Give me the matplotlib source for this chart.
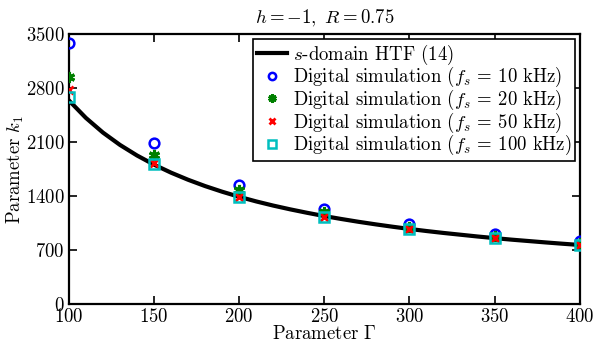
import matplotlib
matplotlib.use("Agg")
import matplotlib.pyplot as plt

plt.rcParams["font.family"] = "serif"
plt.rcParams["font.serif"] = ["cmr10", "DejaVu Serif"]
plt.rcParams["mathtext.fontset"] = "cm"
plt.rcParams["axes.formatter.use_mathtext"] = True

# s-domain HTF curve
gamma_curve = [100, 110, 120, 130, 140, 150, 160, 170, 180, 190, 200, 210, 220, 230, 240, 250,
               260, 270, 280, 290, 300, 310, 320, 330, 340, 350, 360, 370, 380, 390, 400]
k1_curve = [2640, 2413, 2223, 2063, 1926, 1807, 1703, 1611, 1529, 1456, 1390, 1330, 1276, 1227,
            1182, 1140, 1102, 1066, 1033, 1002, 973, 946, 921, 898, 875, 854, 834, 816, 798, 781, 765]

# digital simulation points
gamma_pts = [100, 150, 200, 250, 300, 350, 400]
k1_10k = [3383, 2087, 1543, 1231, 1037, 907, 817]
k1_20k = [2943, 1932, 1478, 1193, 998, 881, 791]
k1_50k = [2774, 1828, 1387, 1128, 972, 855, 765]
k1_100k = [2683, 1815, 1387, 1128, 972, 855, 765]

xticks = [100, 150, 200, 250, 300, 350, 400]
yticks = [0, 700, 1400, 2100, 2800, 3500]

fs = 13.5

fig = plt.figure(figsize=(5.94, 3.45), dpi=100)
ax = fig.add_axes([0.116, 0.119, 0.86, 0.782])

ax.plot(gamma_curve, k1_curve, color="black", lw=3, label=r"$s$-domain HTF (14)", zorder=2)
ax.plot(gamma_pts, k1_10k, ls="none", marker="o", ms=7, mfc="none", mec="blue", mew=1.8,
        label=r"Digital simulation ($f_s$ = 10 kHz)", zorder=3)
ax.plot(gamma_pts, k1_20k, ls="none", marker=(6, 2, 0), ms=8, mec="green", mew=2.2,
        label=r"Digital simulation ($f_s$ = 20 kHz)", zorder=3)
ax.plot(gamma_pts, k1_50k, ls="none", marker="x", ms=6, mec="red", mew=2,
        label=r"Digital simulation ($f_s$ = 50 kHz)", zorder=3)
ax.plot(gamma_pts, k1_100k, ls="none", marker="s", ms=7, mfc="none", mec="c", mew=1.8,
        label=r"Digital simulation ($f_s$ = 100 kHz)", zorder=3)

ax.set_xlim(100, 400)
ax.set_ylim(0, 3500)
ax.set_xticks(xticks)
ax.set_yticks(yticks)
ax.tick_params(direction="in", top=True, right=True, labelsize=fs, length=6, width=1.2, pad=3)
for s in ax.spines.values():
    s.set_linewidth(1.6)

ax.set_xlabel(r"Parameter $\Gamma$", fontsize=fs, labelpad=-1)
ax.set_ylabel(r"Parameter $k_1$", fontsize=fs, labelpad=0)
ax.set_title(r"$h = -1,\ R = 0.75$", fontsize=fs, pad=8)

leg = ax.legend(loc="upper right", fontsize=fs, fancybox=False, framealpha=1,
                edgecolor="black", handlelength=1.6, handletextpad=0.3, markerscale=0.75,
                borderpad=0.2, labelspacing=-0.08, borderaxespad=0.25)
leg.get_frame().set_linewidth(1.2)

fig.savefig("out.png", dpi=100)
